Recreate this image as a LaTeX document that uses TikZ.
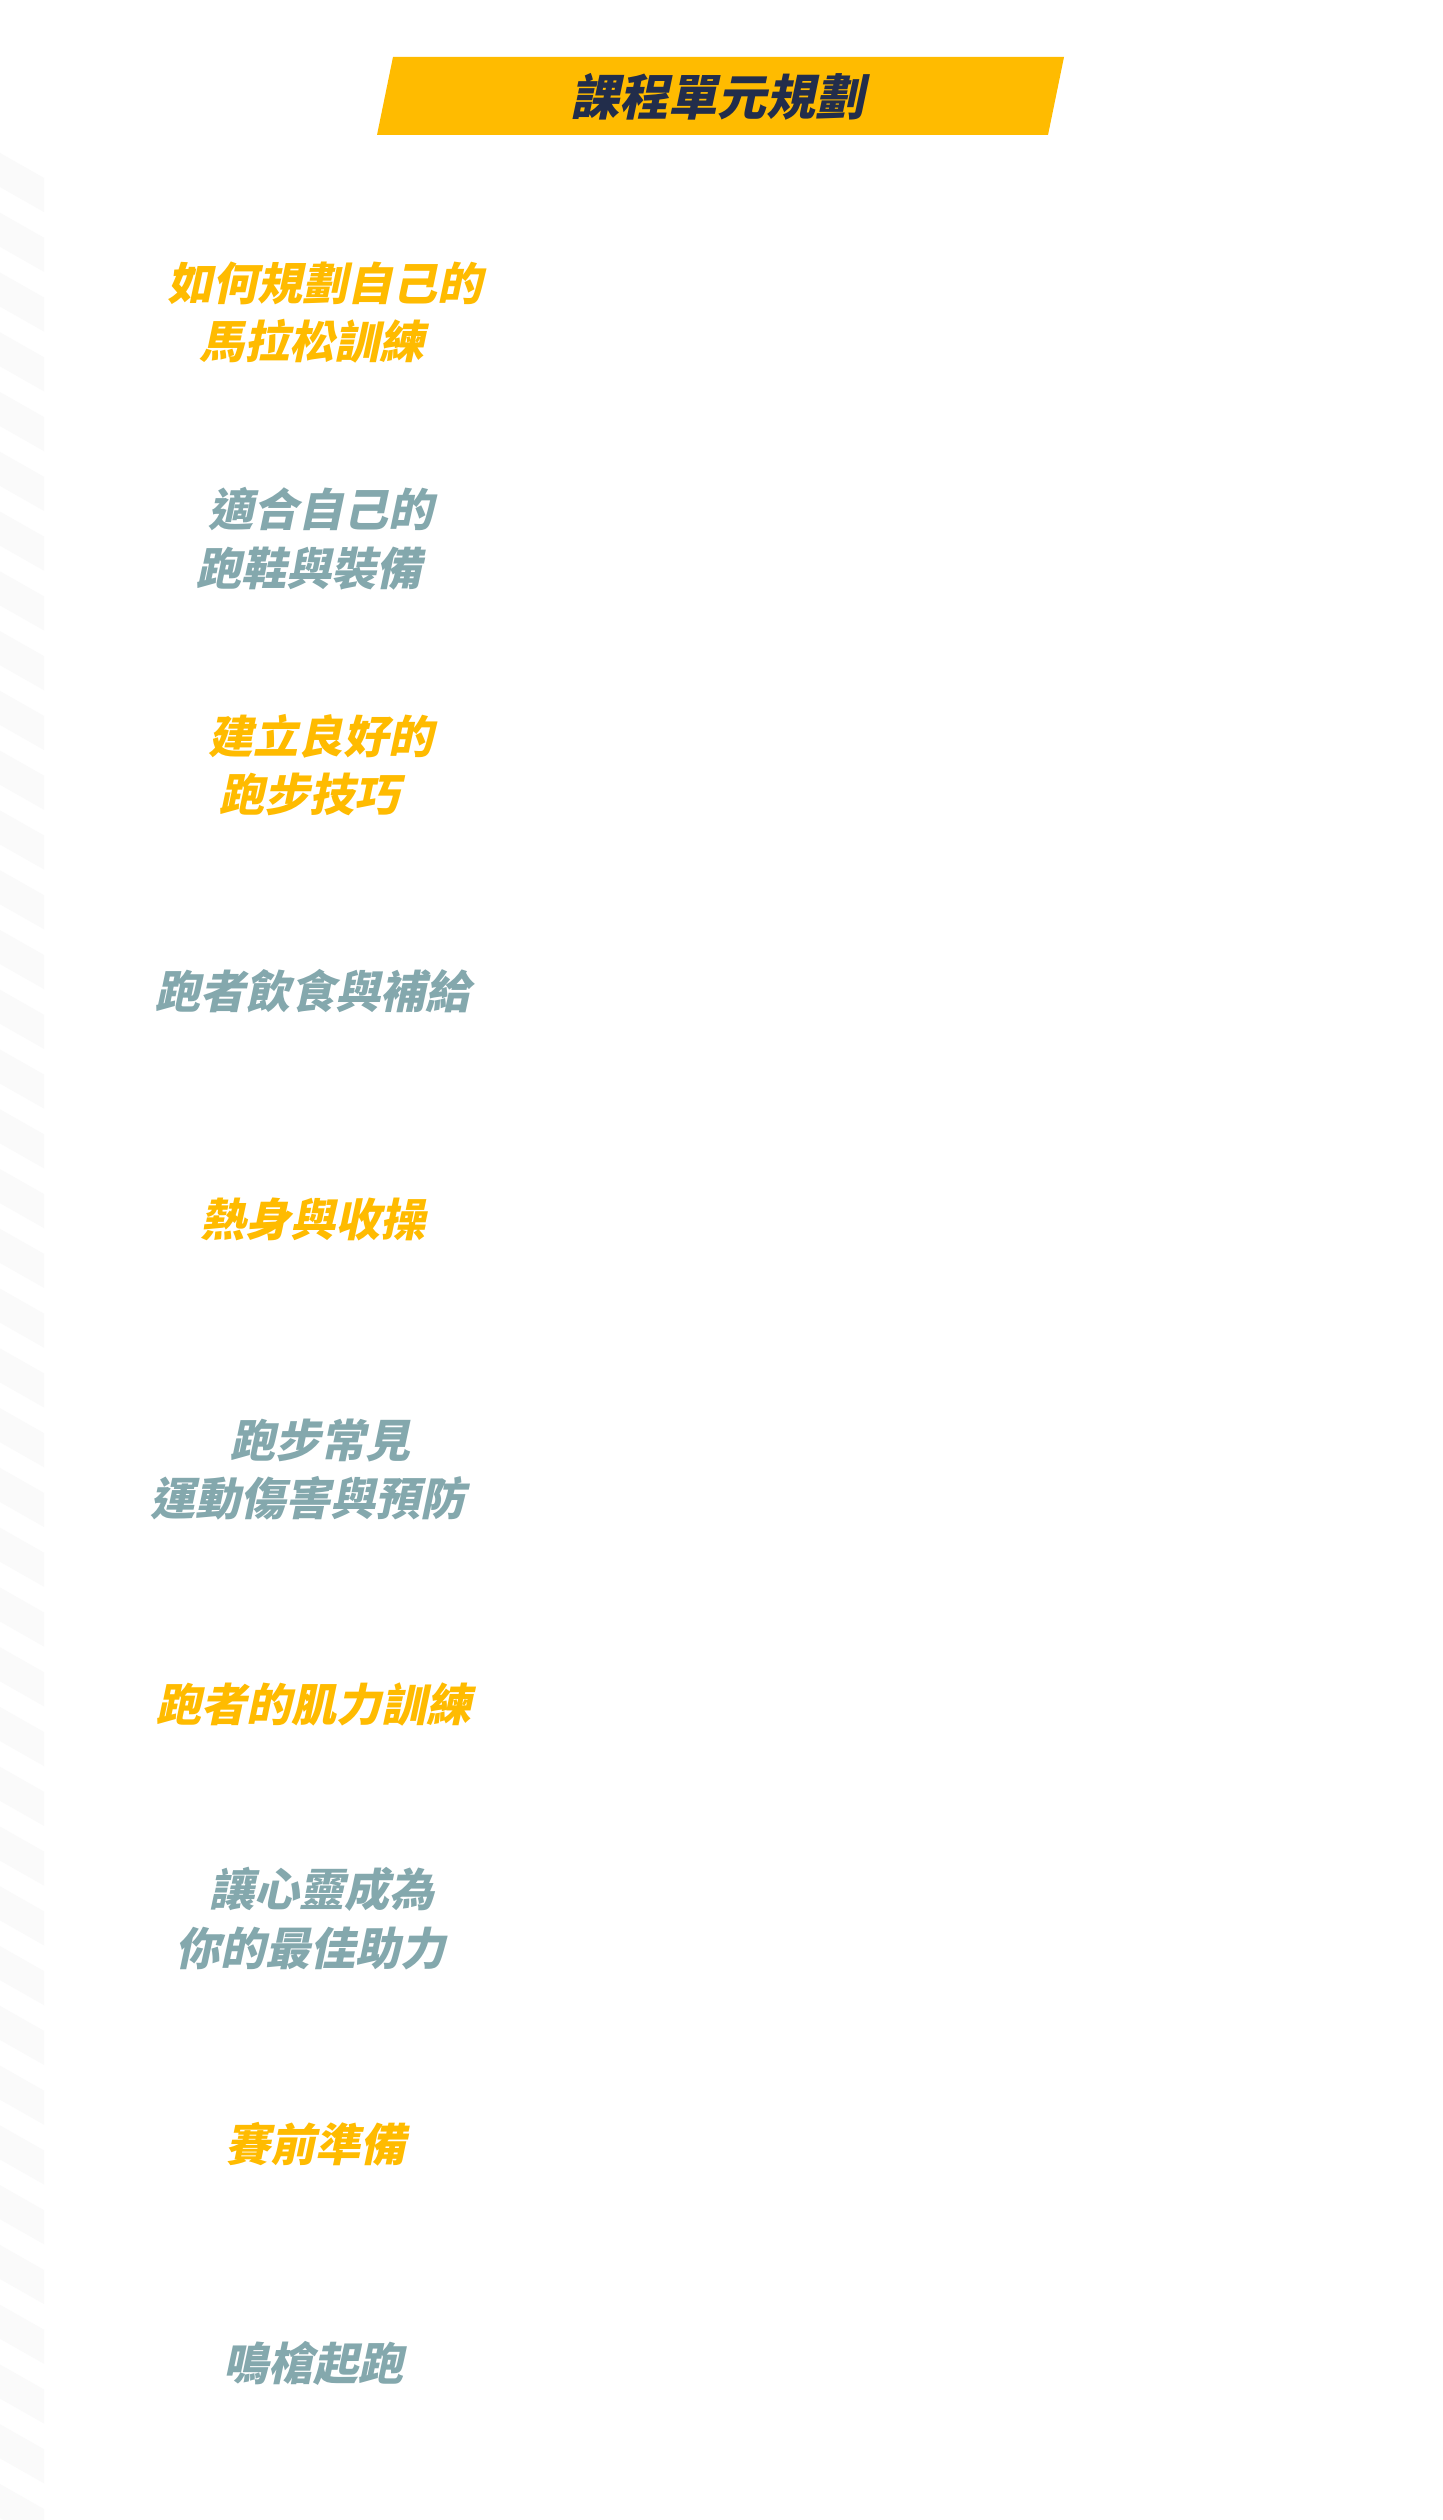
\documentclass[tikz,border=0pt]{standalone}
\usepackage{fontspec}
\newfontfamily\cjk{Noto Sans CJK TC}
\definecolor{cyellow}{HTML}{FFBB00}
\definecolor{cgray}{HTML}{84A8AD}
\definecolor{cnavy}{HTML}{222D4B}
\definecolor{cstripe}{HTML}{FAFAFA}
\begin{document}
\begin{tikzpicture}[x=0.5pt,y=-0.5pt,
  item/.style={inner sep=0pt, align=center, xslant=0.21,
    font=\cjk\bfseries\fontsize{22.5pt}{29.25pt}\selectfont},
  itemY/.style={item, text=cyellow},
  itemG/.style={item, text=cgray},
  titletext/.style={inner sep=0pt, xslant=0.21, text=cnavy,
    font=\cjk\bfseries\fontsize{24.5pt}{30pt}\selectfont}]
\useasboundingbox (0,0) rectangle (1442,2520);
\fill[white] (0,0) rectangle (1442,2520);
% left stripes
\begin{scope}
  \clip (0,0) rectangle (44,2520);
  \foreach \k in {0,...,40}{
    \pgfmathsetmacro{\yy}{153+59.77*\k}
    \fill[cstripe] (0,\yy) -- (44,\yy+25) -- (44,\yy+59) -- (0,\yy+34) -- cycle;
  }
\end{scope}
% title banner
\fill[cyellow] (393,57) -- (1064,57) -- (1048,135) -- (377,135) -- cycle;
\node[titletext] (title) at (721,97) {課程單元規劃};
% items
\node[itemY] (t1) at (322,312.5) {如何規劃自己的\\馬拉松訓練};
\node[itemG] (t2) at (318.5,538.5) {適合自己的\\跑鞋與裝備};
\node[itemY] (t3) at (319,765) {建立良好的\\跑步技巧};
\node[itemG] (t4) at (317,991) {跑者飲食與補給};
\node[itemY] (t5) at (317,1219) {熱身與收操};
\node[itemG] (t6) at (317.5,1469.5) {跑步常見\\運動傷害與預防};
\node[itemY] (t7) at (318,1704) {跑者的肌力訓練};
\node[itemG] (t8) at (320,1918.5) {讓心靈成為\\你的最佳助力};
\node[itemY] (t9) at (319,2144) {賽前準備};
\node[itemG] (t10) at (317,2363) {鳴槍起跑};
\end{tikzpicture}
\end{document}
